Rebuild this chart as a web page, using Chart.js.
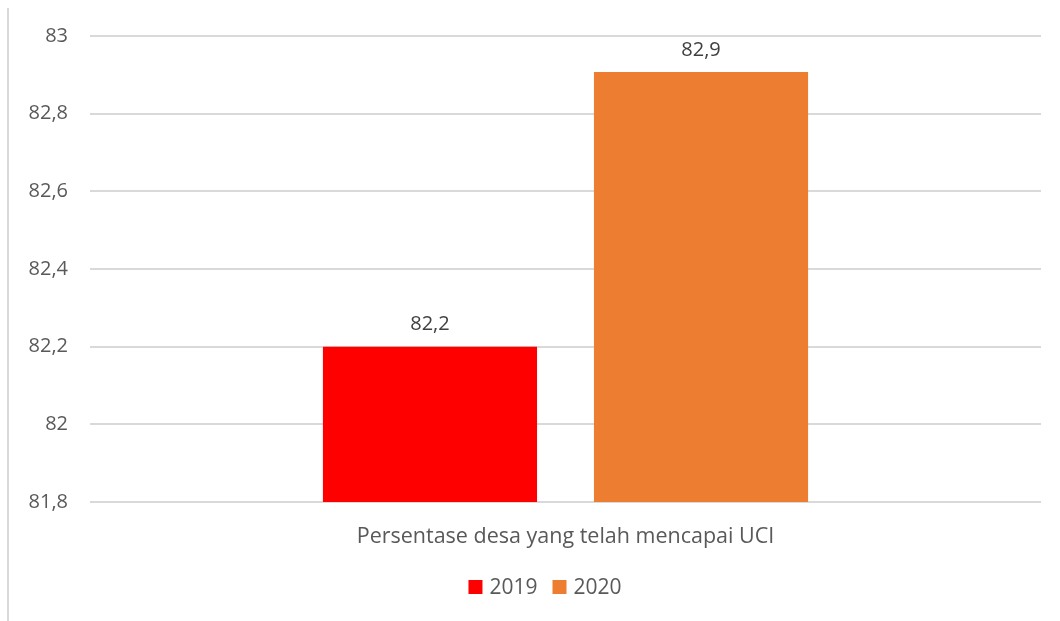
<!DOCTYPE html>
<html>
<head>
<meta charset="utf-8">
<script src="https://cdn.jsdelivr.net/npm/chart.js@4/dist/chart.umd.min.js"></script>
<style>
  html, body { margin: 0; padding: 0; background: #fff; }
  #wrap { position: relative; width: 1060px; height: 621px; }
  #edge { position: absolute; left: 7px; top: 8px; bottom: 0; border-left: 2px solid #d9d9d9; }
</style>
</head>
<body>
<div id="wrap">
  <div id="edge"></div>
  <canvas id="myChart" width="1060" height="621"></canvas>
</div>
<script>
const categories = ["Persentase desa yang telah mencapai UCI"];
const years = ["2019", "2020"];
const values2019 = [82.2];
const values2020 = [82.907];
const valueLabels = ["82,2", "82,9"];
const barColors = ["#ff0000", "#ed7d31"];

const FONT = "'Open Sans', sans-serif";
const fmt = v => String(Number(v.toFixed(1))).replace(".", ",");

// write value above each bar
const barLabels = {
  id: "barLabels",
  afterDatasetsDraw(chart) {
    const ctx = chart.ctx;
    ctx.save();
    ctx.font = "20px " + FONT;
    ctx.fillStyle = "#404040";
    ctx.textAlign = "center";
    ctx.textBaseline = "middle";
    chart.data.datasets.forEach((ds, i) => {
      chart.getDatasetMeta(i).data.forEach(bar => {
        ctx.fillText(valueLabels[i], bar.x, bar.y - 22);
      });
    });
    ctx.restore();
  }
};

// legend under the axis, centred like the original
const bottomLegend = {
  id: "bottomLegend",
  afterDraw(chart) {
    const ctx = chart.ctx;
    const box = 14, gapText = 7, gapItem = 15, y = 587;
    ctx.save();
    ctx.font = "21px " + FONT;
    ctx.textBaseline = "middle";
    const items = chart.data.datasets.map(ds => ({
      text: ds.label, color: ds.backgroundColor, w: ctx.measureText(ds.label).width
    }));
    let total = 0;
    items.forEach((it, i) => { total += box + gapText + it.w + (i ? gapItem : 0); });
    let x = 545 - total / 2;
    items.forEach(it => {
      ctx.fillStyle = it.color;
      ctx.fillRect(x, y - box / 2, box, box);
      x += box + gapText;
      ctx.fillStyle = "#595959";
      ctx.fillText(it.text, x, y + 1);
      x += it.w + gapItem;
    });
    ctx.restore();
  }
};

const ctx = document.getElementById("myChart").getContext("2d");
new Chart(ctx, {
  type: "bar",
  data: {
    labels: categories,
    datasets: [
      { label: years[0], data: values2019, backgroundColor: barColors[0] },
      { label: years[1], data: values2020, backgroundColor: barColors[1] }
    ]
  },
  options: {
    responsive: false,
    animation: false,
    categoryPercentage: 0.57,
    barPercentage: 0.79,
    layout: { padding: { left: 0, right: 19, top: 36, bottom: 63 } },
    scales: {
      y: {
        min: 81.8,
        max: 83,
        ticks: {
          stepSize: 0.2,
          padding: 22,
          color: "#595959",
          font: { size: 20, family: FONT },
          callback: v => fmt(v)
        },
        grid: { color: "#d9d9d9", lineWidth: 2, drawTicks: false },
        border: { display: false },
        afterFit: s => { s.width = 90; }
      },
      x: {
        ticks: {
          padding: 22,
          color: "#595959",
          font: { size: 21.5, family: FONT }
        },
        grid: { display: false, drawTicks: false },
        border: { display: false },
        afterFit: s => { s.height = 56; }
      }
    },
    plugins: {
      legend: { display: false },
      tooltip: { enabled: false }
    }
  },
  plugins: [barLabels, bottomLegend]
});
</script>
</body>
</html>
